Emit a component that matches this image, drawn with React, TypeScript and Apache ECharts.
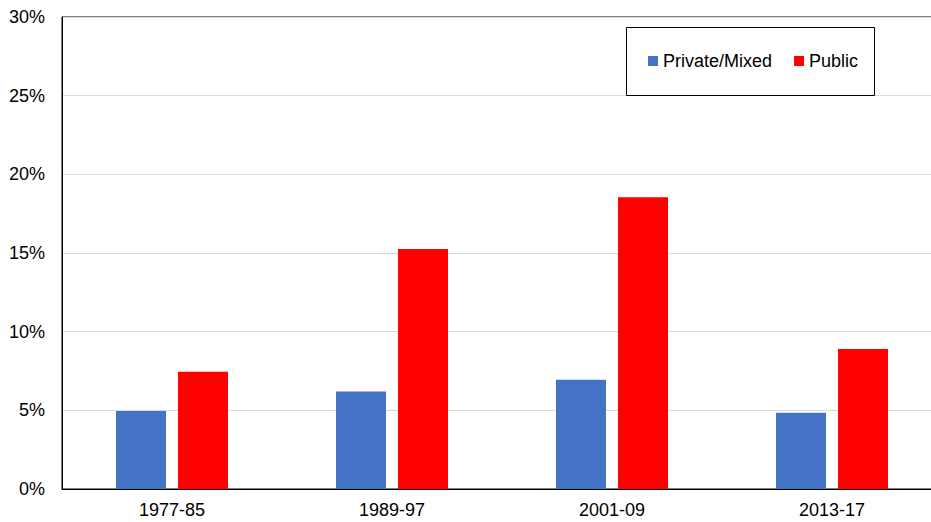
import React, { useEffect, useRef } from "react";
import * as echarts from "echarts";

const categories = ["1977-85", "1989-97", "2001-09", "2013-17"];
const privateMixed = [4.95, 6.2, 6.95, 4.85];
const publicSector = [7.45, 15.25, 18.55, 8.9];
const seriesNames = ["Private/Mixed", "Public"];

const FONT = "'Liberation Sans', Arial, sans-serif";

export default function App() {
  const ref = useRef<HTMLDivElement>(null);
  useEffect(() => {
    if (!ref.current) return;
    const chart = echarts.init(ref.current, null, { renderer: "svg" });
    chart.setOption({
      animation: false,
      backgroundColor: "#ffffff",
      textStyle: { fontFamily: FONT },
      grid: {
        left: 62,
        top: 17,
        right: -11,
        bottom: 33,
        show: true,
        borderColor: "#000000",
        borderWidth: 1,
        containLabel: false,
        outerBoundsMode: "none",
      },
      graphic: [
        {
          type: "rect",
          shape: { x: 626.5, y: 27.5, width: 248, height: 68 },
          style: { fill: "#ffffff", stroke: "#000000", lineWidth: 1 },
          z: 10,
        },
      ],
      legend: {
        left: 648,
        top: 52,
        padding: 0,
        itemWidth: 10,
        itemHeight: 10,
        itemGap: 22,
        icon: "rect",
        z: 20,
        textStyle: { fontSize: 18, color: "#000000", fontFamily: FONT },
        data: seriesNames,
      },
      xAxis: {
        type: "category",
        data: categories,
        axisLine: { show: true, lineStyle: { color: "#000000", width: 1 } },
        axisTick: { show: false },
        axisLabel: { fontSize: 18, color: "#000000", margin: 12, fontFamily: FONT },
        splitLine: { show: false },
      },
      yAxis: {
        type: "value",
        min: 0,
        max: 30,
        interval: 5,
        axisLine: { show: true, lineStyle: { color: "#000000", width: 1 } },
        axisTick: { show: false },
        axisLabel: {
          fontSize: 18,
          color: "#000000",
          margin: 17,
          fontFamily: FONT,
          formatter: "{value}%",
        },
        splitLine: { show: true, lineStyle: { color: "#d9d9d9", width: 1 } },
      },
      series: [
        {
          name: seriesNames[0],
          type: "bar",
          data: privateMixed,
          barWidth: 50,
          barGap: "24%",
          itemStyle: { color: "#4472C4" },
        },
        {
          name: seriesNames[1],
          type: "bar",
          data: publicSector,
          barWidth: 50,
          barGap: "24%",
          itemStyle: { color: "#FF0000" },
        },
      ],
    });
    return () => chart.dispose();
  }, []);
  return (
    <div
      ref={ref}
      style={{ position: "fixed", left: 0, top: 0, width: 931, height: 522, background: "#fff" }}
    />
  );
}
